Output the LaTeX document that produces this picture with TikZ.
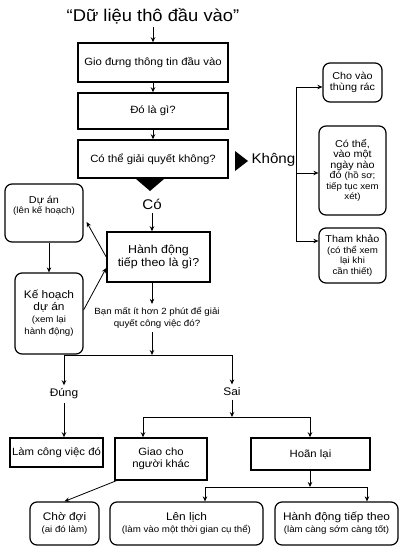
\documentclass[tikz,border=0pt]{standalone}
\usepackage{fontspec}
\setmainfont{Liberation Sans}[FakeStretch=1.08]
\usetikzlibrary{arrows.meta}

% smaller text for the notes in brackets
\newcommand{\ghichu}[1]{{\fontsize{9}{10.5}\selectfont #1}}

\begin{document}
\begin{tikzpicture}[x=1pt, y=-1pt,
		box/.style={draw, line width=1.5pt, align=center, inner sep=1pt, font=\fontsize{10.5}{12.5}\selectfont},
		rbox/.style={draw, line width=1.2pt, rounded corners=7pt, align=center, inner sep=1pt, font=\fontsize{10}{10.5}\selectfont},
		arr/.style={-{Stealth[length=5pt, width=4.5pt]}, line width=0.8pt},
		lbl/.style={font=\fontsize{14}{16}\selectfont}]
			\useasboundingbox (0,0) rectangle (400,556);

			% Title
			\node[font=\fontsize{17}{20}\selectfont] (title) at (153,16) {“Dữ liệu thô đầu vào”};

			% Nodes for the main column
			\node[box, minimum width=150pt, minimum height=39pt] (gom) at (153,62.5) {Gio đưng thông tin đầu vào};
			\node[box, minimum width=150pt, minimum height=36pt] (dola) at (153,111) {Đó là gì?};
			\node[box, minimum width=150pt, minimum height=38pt] (giai) at (153,159) {Có thể giải quyết không?};

			% Edges for the main column
			\draw[arr] (title.south -| gom) -- (gom);
			\draw[arr] (gom) -- (dola);
			\draw[arr] (dola) -- (giai);

			% Answers
			\fill (235,151) -- (248,161) -- (235,171) -- cycle;
			\node[lbl, anchor=west] (khong) at (248,160) {Không};
			\fill (136,179) -- (164,179) -- (150,191) -- cycle;
			\node[lbl] (co) at (152,204) {Có};

			% Nodes for the answer no
			\node[rbox, minimum width=59pt, minimum height=39pt] (rac) at (352.5,82.5) {Cho vào\\thùng rác};
			\node[rbox, minimum width=67pt, minimum height=89pt] (sau) at (352.5,170.5) {Có thể,\\vào một\\ngày nào\\đó \ghichu{(hồ sơ;}\\\ghichu{tiếp tục xem}\\\ghichu{xét)}};
			\node[rbox, minimum width=67pt, minimum height=55pt] (tham) at (352.5,255.5) {Tham khảo\\\ghichu{(có thể xem}\\\ghichu{lại khi}\\\ghichu{cần thiết)}};

			% Edges for the answer no
			\coordinate (ktop) at (296,87);
			\coordinate (kmid) at (296,173);
			\coordinate (kbot) at (296,241);
			\draw[line width=0.8pt] (ktop) -- (kbot);
			\draw[arr] (ktop) -- (ktop -| rac.west);
			\draw[arr] (kmid) -- (kmid -| sau.west);
			\draw[arr] (kbot) -- (kbot -| tham.west);

			% Nodes for the answer yes
			\node[rbox, minimum width=78pt, minimum height=58pt] (duan) at (44,213) {Dự án\\\ghichu{(lên kế hoạch)}\\[6pt]};
			\node[rbox, minimum width=68pt, minimum height=81pt, font=\fontsize{11}{12}\selectfont] (kehoach) at (49,313.5) {Kế hoạch\\dự án\\\ghichu{(xem lại}\\\ghichu{hành động)}};
			\node[box, minimum width=103pt, minimum height=50pt, font=\fontsize{11.5}{13}\selectfont] (tieptheo) at (158.5,257) {Hành động\\tiếp theo là gì?};
			\node[align=center, font=\fontsize{9}{12}\selectfont] (hoi) at (157,318) {Bạn mất ít hơn 2 phút để giải\\quyết công việc đó?};

			% Edges for the answer yes
			\draw[arr] (co) -- (co |- tieptheo.north);
			\draw[arr] (kehoach.north |- duan.south) -- (kehoach.north);
			\draw[arr] (tieptheo.west) -- ([shift={(3,9)}]duan.east);
			\draw[arr] ([yshift=3.5pt]kehoach.east) -- ([yshift=-11pt]tieptheo.west);
			\draw[arr] (tieptheo.south -| co) -- (hoi.north -| co);

			% Two minutes or not
			\coordinate (chia) at (152,355);
			\node[font=\fontsize{11}{13}\selectfont] (dung) at (64,394) {Đúng};
			\node[font=\fontsize{11}{13}\selectfont] (sai) at (232,392) {Sai};
			\draw[arr] (hoi.south -| co) -- (chia);
			\draw[line width=0.8pt] (chia -| dung) -- (chia -| sai);
			\draw[arr] (chia -| dung) -- (dung.north);
			\draw[arr] (chia -| sai) -- (sai.north);

			% Nodes for the second row
			\node[box, minimum width=93pt, minimum height=29pt] (lam) at (56.5,452.5) {Làm công việc đó};
			\node[box, minimum width=92pt, minimum height=42pt] (giao) at (161,459) {Giao cho\\người khác};
			\node[box, minimum width=119pt, minimum height=32pt] (hoan) at (310.5,454) {Hoãn lại};

			% Edges for the second row
			\coordinate (g1) at (143,417);
			\coordinate (h1) at (310,417);
			\draw[arr] (dung) -- (dung |- lam.north);
			\draw[arr] (sai) -- (sai |- g1);
			\draw[line width=0.8pt] (g1) -- (h1);
			\draw[arr] (g1) -- (g1 |- giao.north);
			\draw[arr] (h1) -- (h1 |- hoan.north);

			% Nodes for the last row
			\node[rbox, minimum width=69pt, minimum height=43pt, font=\fontsize{11}{12}\selectfont] (cho) at (64.5,523.5) {Chờ đợi\\\ghichu{(ai đó làm)}};
			\node[rbox, minimum width=153pt, minimum height=43pt, font=\fontsize{11}{12}\selectfont] (lich) at (186.5,523.5) {Lên lịch\\\ghichu{(làm vào một thời gian cụ thể)}};
			\node[rbox, minimum width=123pt, minimum height=43pt, font=\fontsize{11}{12}\selectfont] (ngay) at (336.5,523.5) {Hành động tiếp theo\\\ghichu{(làm càng sớm càng tốt)}};

			% Edges for the last row
			\coordinate (l0) at (310,487);
			\coordinate (l1) at (205,487);
			\coordinate (l2) at (367,487);
			\draw[arr] (hoan.south -| l0) -- (l0);
			\draw[line width=0.8pt] (l1) -- (l2);
			\draw[arr] (l1) -- (l1 |- lich.north);
			\draw[arr] (l2) -- (l2 |- ngay.north);
			\draw[arr] ([xshift=2pt]giao.south west) -- (cho.north);
		\end{tikzpicture}
\end{document}
